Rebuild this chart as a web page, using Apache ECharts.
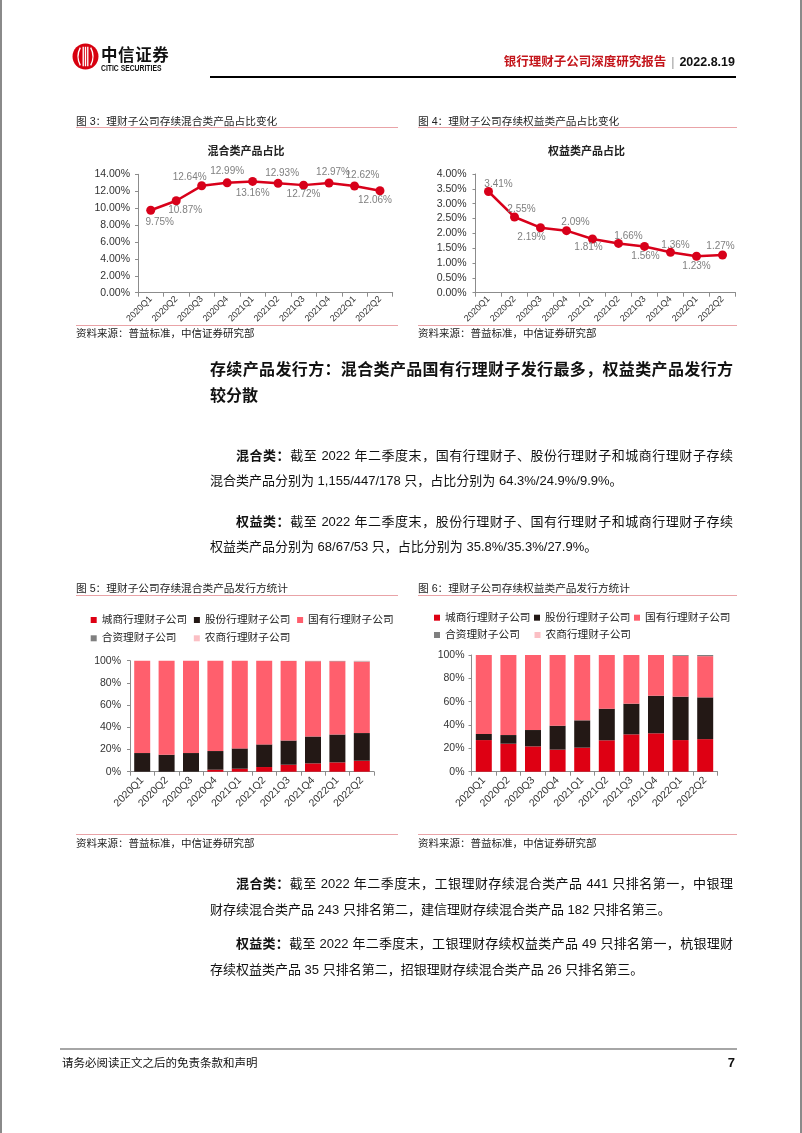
<!DOCTYPE html>
<html lang="zh-CN">
<head>
<meta charset="utf-8">
<title>银行理财子公司深度研究报告</title>
<script src="https://cdn.jsdelivr.net/npm/echarts@6.0.0/dist/echarts.min.js"></script>
<style>
html,body{margin:0;padding:0;background:#fff;}
body{width:802px;height:1133px;position:relative;overflow:hidden;font-family:"Liberation Sans","Noto Sans CJK SC",sans-serif;color:#111;}
#chart{position:absolute;left:0;top:0;width:802px;height:1133px;z-index:0;}
.t{position:absolute;white-space:nowrap;z-index:2;}
.ln{position:absolute;z-index:2;}
.j{text-align:justify;text-align-last:justify;}
.ft{font-size:10.7px;line-height:14px;color:#222;}
.src{font-size:10.5px;line-height:14px;color:#222;}
.ul{height:1px;background:#e9a3a7;}
.h{font-size:16px;line-height:24px;font-weight:bold;color:#111;}
.p{font-size:13px;line-height:20px;color:#111;}
</style>
</head>
<body>
<div id="chart"></div>

<!-- page edges -->
<div class="ln" style="left:0;top:0;width:2px;height:1133px;background:#8a8a8a"></div>
<div class="ln" style="left:800px;top:0;width:2px;height:1133px;background:#8a8a8a"></div>

<!-- header -->
<svg class="ln" style="left:72px;top:43px" width="27" height="27" viewBox="0 0 26 26">
  <circle cx="13" cy="13" r="12.5" fill="#d7000f"/>
  <path d="M8 4.5 Q3.5 13 8 21.5 M10.8 3.5 V22.5 M13 3.5 V22.5 M15.2 3.5 V22.5 M18 4.5 Q22.5 13 18 21.5" stroke="#fff" stroke-width="1.3" fill="none"/>
</svg>
<div class="t" style="left:101px;top:44px;font-size:16.5px;line-height:20px;font-weight:bold;color:#111;font-family:'Noto Sans CJK SC';letter-spacing:0.6px">中信证券</div>
<div class="t" style="left:101px;top:63px;font-size:8.5px;line-height:10px;font-weight:bold;color:#111;transform:scaleX(0.8);transform-origin:left center">CITIC SECURITIES</div>
<div class="t" style="right:67px;top:54px;font-size:12.5px;line-height:16px;"><span style="color:#c4161c;font-weight:bold">银行理财子公司深度研究报告</span><span style="color:#999;margin:0 5px">|</span><b style="color:#111">2022.8.19</b></div>
<div class="ln" style="left:210px;top:76px;width:526px;height:2px;background:#000"></div>

<!-- figure titles top -->
<div class="t ft" style="left:76px;top:114px">图 3：理财子公司存续混合类产品占比变化</div>
<div class="ln ul" style="left:76px;top:127px;width:322px"></div>
<div class="t ft" style="left:418px;top:114px">图 4：理财子公司存续权益类产品占比变化</div>
<div class="ln ul" style="left:418px;top:127px;width:319px"></div>

<div class="ln ul" style="left:76px;top:325px;width:322px"></div>
<div class="t src" style="left:76px;top:326px">资料来源：普益标准，中信证券研究部</div>
<div class="ln ul" style="left:418px;top:325px;width:319px"></div>
<div class="t src" style="left:418px;top:326px">资料来源：普益标准，中信证券研究部</div>

<!-- heading and paragraphs -->
<div class="t h j" style="left:210px;top:358px;width:523px">存续产品发行方：混合类产品国有行理财子发行最多，权益类产品发行方</div>
<div class="t h" style="left:210px;top:384px">较分散</div>

<div class="t p j" style="left:236px;top:446px;width:497px"><b>混合类：</b>截至 2022 年二季度末，国有行理财子、股份行理财子和城商行理财子存续</div>
<div class="t p" style="left:210px;top:471px">混合类产品分别为 1,155/447/178 只，占比分别为 64.3%/24.9%/9.9%。</div>
<div class="t p j" style="left:236px;top:512px;width:497px"><b>权益类：</b>截至 2022 年二季度末，股份行理财子、国有行理财子和城商行理财子存续</div>
<div class="t p" style="left:210px;top:537px">权益类产品分别为 68/67/53 只，占比分别为 35.8%/35.3%/27.9%。</div>

<!-- figure titles bottom -->
<div class="t ft" style="left:76px;top:581px">图 5：理财子公司存续混合类产品发行方统计</div>
<div class="ln ul" style="left:76px;top:595px;width:322px"></div>
<div class="t ft" style="left:418px;top:581px">图 6：理财子公司存续权益类产品发行方统计</div>
<div class="ln ul" style="left:418px;top:595px;width:319px"></div>

<div class="ln ul" style="left:76px;top:834px;width:322px"></div>
<div class="t src" style="left:76px;top:836px">资料来源：普益标准，中信证券研究部</div>
<div class="ln ul" style="left:418px;top:834px;width:319px"></div>
<div class="t src" style="left:418px;top:836px">资料来源：普益标准，中信证券研究部</div>

<div class="t p j" style="left:236px;top:874px;width:497px"><b>混合类：</b>截至 2022 年二季度末，工银理财存续混合类产品 441 只排名第一，中银理</div>
<div class="t p" style="left:210px;top:900px">财存续混合类产品 243 只排名第二，建信理财存续混合类产品 182 只排名第三。</div>
<div class="t p j" style="left:236px;top:934px;width:497px"><b>权益类：</b>截至 2022 年二季度末，工银理财存续权益类产品 49 只排名第一，杭银理财</div>
<div class="t p" style="left:210px;top:960px">存续权益类产品 35 只排名第二，招银理财存续混合类产品 26 只排名第三。</div>

<!-- footer -->
<div class="ln" style="left:60px;top:1048px;width:677px;height:2px;background:#a6a6a6"></div>
<div class="t" style="left:62px;top:1055px;font-size:11.5px;line-height:16px;color:#111">请务必阅读正文之后的免责条款和声明</div>
<div class="t" style="right:67px;top:1055px;font-size:13px;line-height:16px;font-weight:bold;color:#111">7</div>

<script>
// ---------- data ----------
const quarters = ['2020Q1','2020Q2','2020Q3','2020Q4','2021Q1','2021Q2','2021Q3','2021Q4','2022Q1','2022Q2'];
const mixedShare = [9.75, 10.87, 12.64, 12.99, 13.16, 12.93, 12.72, 12.97, 12.62, 12.06];
const equityShare = [3.41, 2.55, 2.19, 2.09, 1.81, 1.66, 1.56, 1.36, 1.23, 1.27];
const issuerNames = ['城商行理财子公司','股份行理财子公司','国有行理财子公司','合资理财子公司','农商行理财子公司'];
// figure 5: mixed products by issuer type (%)
const mixedCity  = [0, 0, 0, 1.8, 2.7, 4.2, 6.3, 7.5, 8.4, 9.9];
const mixedStock = [16.8, 15.3, 16.8, 16.8, 18.3, 20.4, 21.8, 24.2, 25.1, 24.9];
const mixedState = [83.2, 84.7, 83.2, 81.4, 79.0, 75.4, 71.6, 67.8, 65.9, 64.3];
const mixedJV    = [0, 0, 0, 0, 0, 0, 0.1, 0.2, 0.3, 0.4];
const mixedRural = [0, 0, 0, 0, 0, 0, 0.2, 0.3, 0.3, 0.5];
// figure 6: equity products by issuer type (%)
const equityCity  = [27.1, 24.0, 21.7, 18.9, 20.6, 26.9, 32.0, 32.9, 27.1, 27.9];
const equityStock = [5.2, 7.4, 14.0, 20.5, 23.4, 27.1, 26.3, 32.2, 37.2, 35.8];
const equityState = [67.7, 68.6, 64.3, 60.6, 56.0, 46.0, 41.7, 34.9, 35.0, 35.3];
const equityJV    = [0, 0, 0, 0, 0, 0, 0, 0, 0.7, 1.0];
const equityRural = [0, 0, 0, 0, 0, 0, 0, 0, 0, 0];

// ---------- layout / style (not data) ----------
const mixedLabelOffset  = [[9,12],[9,9],[-12,-9],[0,-12],[0,12],[4,-10],[0,9],[4,-11],[8,-11],[-5,10]];
const equityLabelOffset = [[10,-7],[7,-8],[-9,10],[9,-8],[-4,8],[10,-7],[1,10],[5,-7],[0,10],[-2,-9]];
const RED = '#d8001a';
const issuerColors = ['#de0013','#231815','#ff5f6d','#7f7f7f','#fbbfc4'];
const AXIS = '#8c8c8c';
const LBL = '#333333';
const FONT = '"Liberation Sans","Noto Sans CJK SC",sans-serif';

const chart = echarts.init(document.getElementById('chart'), null, {renderer:'canvas'});

function catAxis(grid, fs, margin){
  return {type:'category', gridIndex:grid, data:quarters, boundaryGap:true,
    axisLine:{show:true, lineStyle:{color:AXIS, width:1}},
    axisTick:{show:true, interval:0, length:4, lineStyle:{color:AXIS}},
    axisLabel:{interval:0, rotate:45, fontSize:fs, color:LBL, margin:margin, fontFamily:FONT},
    splitLine:{show:false}};
}
function valAxis(grid, max, interval, fmt, fs, margin){
  return {type:'value', gridIndex:grid, min:0, max:max, interval:interval,
    axisLine:{show:true, lineStyle:{color:AXIS, width:1}},
    axisTick:{show:true, length:3, lineStyle:{color:AXIS}},
    axisLabel:{formatter:fmt, fontSize:fs, color:LBL, margin:margin, fontFamily:FONT},
    splitLine:{show:false}};
}
function lineSeries(name, data, offsets, axis){
  return {type:'line', name:name, xAxisIndex:axis, yAxisIndex:axis,
    data:data.map((v,i)=>({value:v, label:{offset:offsets[i]}})),
    symbol:'circle', symbolSize:9, z:3,
    lineStyle:{color:RED, width:2.5}, itemStyle:{color:RED},
    label:{show:true, position:'inside', formatter:p=>p.value.toFixed(2)+'%', color:'#808080', fontSize:10, fontFamily:FONT}};
}
function barSeries(stack, axis, datas){
  return issuerNames.map((n,i)=>({type:'bar', name:n, stack:stack, xAxisIndex:axis, yAxisIndex:axis,
    barWidth:16, data:datas[i], itemStyle:{color:issuerColors[i]}}));
}
const legendCommon = {icon:'rect', itemWidth:6, itemHeight:6, padding:0, selectedMode:false, orient:'horizontal',
  textStyle:{fontSize:10.7, color:'#222', lineHeight:13, fontFamily:FONT}};

const option = {
  animation:false,
  backgroundColor:'transparent',
  textStyle:{fontFamily:FONT},
  grid:[
    {left:138, top:174.3, width:254.7, height:118.4, outerBoundsMode:'none'},
    {left:475.5, top:174, width:260, height:118.7, outerBoundsMode:'none'},
    {left:130, top:660.7, width:244, height:111, outerBoundsMode:'none'},
    {left:471.5, top:655, width:246, height:116.7, outerBoundsMode:'none'}
  ],
  xAxis:[catAxis(0, 9, 5), catAxis(1, 9, 5), catAxis(2, 10.5, 7), catAxis(3, 10.5, 7)],
  yAxis:[
    valAxis(0, 14, 2, v=>v.toFixed(2)+'%', 10.5, 8),
    valAxis(1, 4, 0.5, v=>v.toFixed(2)+'%', 10.5, 9),
    valAxis(2, 100, 20, '{value}%', 10.5, 9),
    valAxis(3, 100, 20, '{value}%', 10.5, 7)
  ],
  legend:[
    Object.assign({data:issuerNames.slice(0,3), left:90.7, top:613.5, itemGap:6.7}, legendCommon),
    Object.assign({data:issuerNames.slice(3), left:90.7, top:631.8, itemGap:17.3}, legendCommon),
    Object.assign({data:issuerNames.slice(0,3), left:434, top:611.2, itemGap:3.5}, legendCommon),
    Object.assign({data:issuerNames.slice(3), left:434, top:628.5, itemGap:14.7}, legendCommon)
  ],
  graphic:[
    {type:'text', x:246, y:151, style:{text:'混合类产品占比', align:'center', verticalAlign:'middle', fontSize:11, fontWeight:'bold', fontFamily:'"Noto Sans CJK SC"', fill:'#222'}},
    {type:'text', x:586.5, y:151, style:{text:'权益类产品占比', align:'center', verticalAlign:'middle', fontSize:11, fontWeight:'bold', fontFamily:'"Noto Sans CJK SC"', fill:'#222'}}
  ],
  series:[
    lineSeries('混合类产品占比', mixedShare, mixedLabelOffset, 0),
    lineSeries('权益类产品占比', equityShare, equityLabelOffset, 1),
    ...barSeries('mixed', 2, [mixedCity, mixedStock, mixedState, mixedJV, mixedRural]),
    ...barSeries('equity', 3, [equityCity, equityStock, equityState, equityJV, equityRural])
  ]
};
chart.setOption(option);
</script>
</body>
</html>
